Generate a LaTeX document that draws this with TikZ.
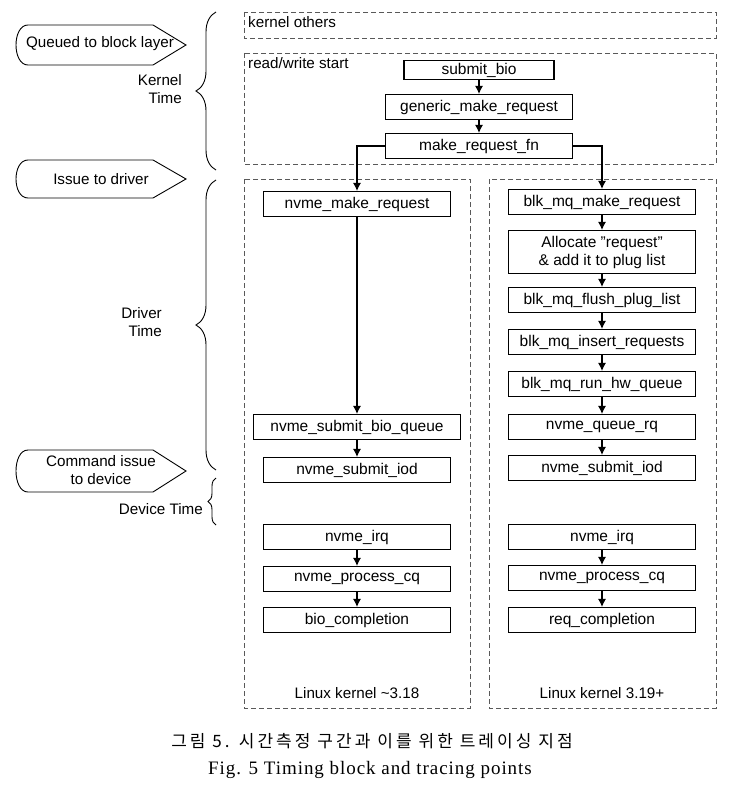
\documentclass[tikz,border=0pt]{standalone}
\usepackage{fontspec}
\setmainfont{Liberation Sans}
\newfontfamily\capfont[LetterSpace=5]{Liberation Serif}
\newfontfamily\cjkfont[LetterSpace=18]{Noto Sans CJK KR}
\usetikzlibrary{decorations.pathreplacing,arrows.meta}

\begin{document}
\begin{tikzpicture}[x=1pt,y=-1pt,
    func/.style={draw,line width=1.1pt,minimum width=187pt,minimum height=25pt,
        inner sep=1pt,align=center,font=\fontsize{15.5}{18}\selectfont},
    group/.style={draw=black!65,dash pattern=on 5pt off 3pt,line width=0.8pt},
    tag/.style={line width=0.9pt},
    timebrace/.style={decorate,decoration={brace,amplitude=20pt},line width=0.9pt},
    flow/.style={-{Latex[length=8pt,width=8pt]},line width=1.1pt},
    lbl/.style={font=\fontsize{15.2}{18}\selectfont,align=center,inner sep=0pt}
]
    \useasboundingbox (0,0) rectangle (739,789);

    % dashed groups
    \draw[group] (244,12) rectangle (716,38);
    \node[lbl,anchor=west] (othlbl) at (248,22) {kernel others};
    \draw[group] (244,53) rectangle (716,164);
    \node[lbl,anchor=west] (rwlbl) at (248,63) {read/write start};
    \draw[group] (244,179) rectangle (470,708);
    \draw[group] (489,179) rectangle (716,708);
    \node[lbl] (oldlbl) at (357,693) {Linux kernel \string~3.18};
    \node[lbl] (newlbl) at (602,693) {Linux kernel 3.19+};

    % block layer entry
    \node[func,minimum width=150pt,minimum height=19pt] (submit) at (479,70) {submit\_bio};
    \node[func] (generic) at (479,107) {generic\_make\_request};
    \node[func] (mrfn) at (479,146) {make\_request\_fn};
    \draw[flow] (submit) -- (generic);
    \draw[flow] (generic) -- (mrfn);

    % kernel ~3.18
    \node[func] (nmake) at (357,204) {nvme\_make\_request};
    \node[func,minimum width=207pt] (nsbq) at (357,427) {nvme\_submit\_bio\_queue};
    \node[func] (nsiod) at (357,470) {nvme\_submit\_iod};
    \node[func] (nirq) at (357,537) {nvme\_irq};
    \node[func] (nproc) at (357,579) {nvme\_process\_cq};
    \node[func] (biocomp) at (357,620) {bio\_completion};
    \draw[flow] (mrfn.west) -| (nmake.north);
    \draw[flow] (nmake) -- (nsbq);
    \draw[flow] (nsbq) -- (nsiod);
    \draw[flow] (nirq) -- (nproc);
    \draw[flow] (nproc) -- (biocomp);

    % kernel 3.19+
    \node[func] (bmake) at (602,202) {blk\_mq\_make\_request};
    \node[func,minimum height=43pt] (alloc) at (602,252)
        {Allocate \symbol{34}request\symbol{34}\\\& add it to plug list};
    \node[func] (flush) at (602,300) {blk\_mq\_flush\_plug\_list};
    \node[func] (insert) at (602,342) {blk\_mq\_insert\_requests};
    \node[func] (runhw) at (602,384) {blk\_mq\_run\_hw\_queue};
    \node[func] (queuerq) at (602,427) {nvme\_queue\_rq};
    \node[func] (rsiod) at (602,468) {nvme\_submit\_iod};
    \node[func] (rirq) at (602,537) {nvme\_irq};
    \node[func] (rproc) at (602,578) {nvme\_process\_cq};
    \node[func] (reqcomp) at (602,620) {req\_completion};
    \draw[flow] (mrfn.east) -| (bmake.north);
    \draw[flow] (bmake) -- (alloc);
    \draw[flow] (alloc) -- (flush);
    \draw[flow] (flush) -- (insert);
    \draw[flow] (insert) -- (runhw);
    \draw[flow] (runhw) -- (queuerq);
    \draw[flow] (queuerq) -- (rsiod);
    \draw[flow] (rirq) -- (rproc);
    \draw[flow] (rproc) -- (reqcomp);

    % timing points
    \node[lbl] (queued) at (100,44) {Queued to block layer};
    \node[lbl] (issue) at (101,179) {Issue to driver};
    \node[lbl] (cmdissue) at (101,470) {Command issue\\to device};
    \foreach \yc/\hh in {45/20,179/19,471/21}
        \draw[tag] (28,\yc-\hh) -- (153,\yc-\hh) -- (186,\yc) -- (153,\yc+\hh)
            -- (28,\yc+\hh) .. controls (12,\yc+\hh) and (12,\yc-\hh) .. (28,\yc-\hh);

    % time spans
    \draw[timebrace] (216,170) -- (216,12);
    \draw[timebrace] (216,470) -- (216,180);
    \draw[timebrace,decoration={amplitude=8pt}] (216,525) -- (216,478);
    \node[lbl,align=right,anchor=east] (ktime) at (182,89) {Kernel\\Time};
    \node[lbl,align=right,anchor=east] (dtime) at (162,322) {Driver\\Time};
    \node[lbl,anchor=east] (devtime) at (203,509) {Device Time};

    % caption
    \node[inner sep=0pt] (capkr) at (372,741)
        {\cjkfont\fontsize{17}{19}\selectfont 그림 5. 시간측정 구간과 이를 위한 트레이싱 지점};
    \node[inner sep=0pt] (capen) at (370,770)
        {\capfont\fontsize{19}{21}\selectfont Fig. 5 Timing block and tracing points};
\end{tikzpicture}
\end{document}
